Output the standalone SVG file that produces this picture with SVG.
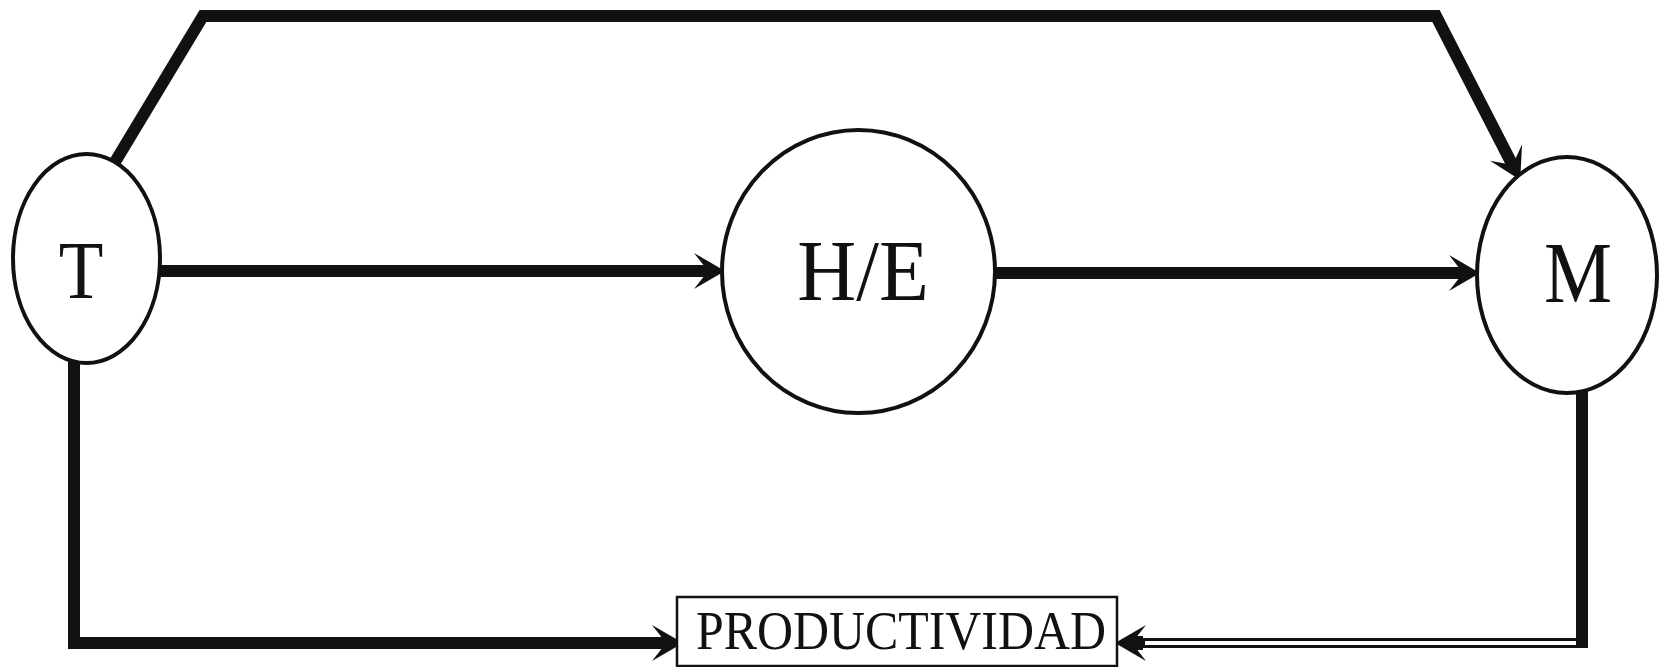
<svg xmlns="http://www.w3.org/2000/svg" width="1659" height="667" viewBox="0 0 1659 667">
  <style>
    .node { fill: #ffffff; stroke: #111111; stroke-width: 4; }
    .lbl { font-family: "Liberation Serif", "Times New Roman", serif; fill: #111111; }
    .conn { fill: none; stroke: #111111; stroke-width: 12; stroke-linejoin: miter; }
    .dbl-w { fill: none; stroke: #ffffff; stroke-width: 4; }
  </style>
  <defs>
    <marker id="arr" markerUnits="userSpaceOnUse" viewBox="-20 -22 42 44" refX="0" refY="0" markerWidth="42" markerHeight="44" orient="auto" overflow="visible">
      <path d="M18,0 L-13,-18 L-2,-4 L0,0 L-2,4 L-13,18 Z" fill="#111111"/>
    </marker>
  </defs>
  <rect x="0" y="0" width="1659" height="667" fill="#ffffff"/>

  <g id="connectors">
    <!-- T top route to M -->
    <path class="conn" d="M115,162 L203,16 L1436,16 L1512,164" marker-end="url(#arr)"/>
    <!-- T to H/E -->
    <path class="conn" d="M158,271 L707,271" marker-end="url(#arr)"/>
    <!-- H/E to M -->
    <path class="conn" d="M995,273 L1462,273" marker-end="url(#arr)"/>
    <!-- T down to PRODUCTIVIDAD -->
    <path class="conn" d="M74,362 L74,643 L665,643" marker-end="url(#arr)"/>
    <!-- M down to PRODUCTIVIDAD (double line) -->
    <path class="conn" d="M1582,391 L1582,648" stroke-width="11"/>
    <path d="M1586,643 L1140,643" fill="none" stroke="#111111" stroke-width="10"/>
    <path class="dbl-w" d="M1576,643 L1145,643"/>
    <rect x="1132" y="636" width="11" height="14" fill="#111111"/>
    <path d="M1135,643 L1133,643" fill="none" stroke="#111111" stroke-width="6" marker-end="url(#arr)"/>
  </g>

  <g id="node-T">
    <ellipse class="node" cx="86.5" cy="258.5" rx="73.5" ry="104.5"/>
    <text class="lbl" font-size="83" text-anchor="middle" transform="translate(81,298) scale(0.88,1)">T</text>
  </g>

  <g id="node-HE">
    <ellipse class="node" cx="858.5" cy="271.5" rx="136.5" ry="141.5"/>
    <text class="lbl" font-size="86" text-anchor="middle" transform="translate(863,300) scale(0.95,1)">H/E</text>
  </g>

  <g id="node-M">
    <ellipse class="node" cx="1567" cy="275" rx="90" ry="118"/>
    <text class="lbl" font-size="86" text-anchor="middle" transform="translate(1578,302) scale(0.89,1)">M</text>
  </g>

  <g id="node-productividad">
    <rect x="677" y="597" width="440" height="69" fill="#ffffff" stroke="#111111" stroke-width="2.5"/>
    <text class="lbl" x="901" y="649" font-size="54" text-anchor="middle" textLength="410" lengthAdjust="spacingAndGlyphs">PRODUCTIVIDAD</text>
  </g>
</svg>
